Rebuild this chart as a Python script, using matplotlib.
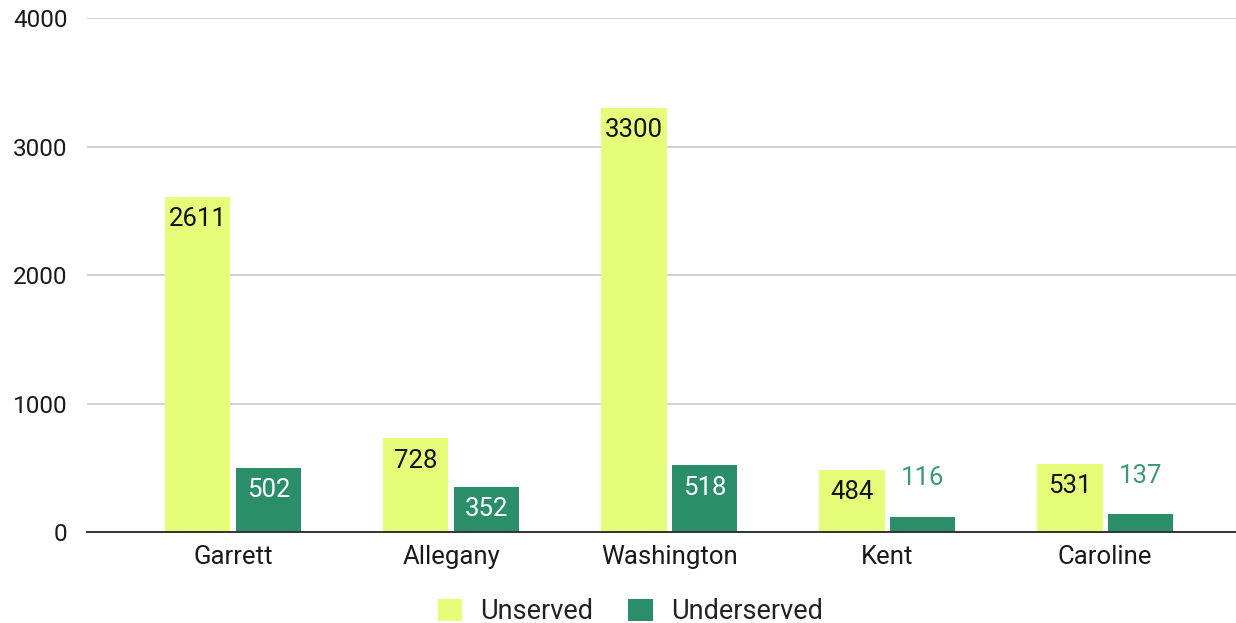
import matplotlib
matplotlib.use('Agg')
import matplotlib.pyplot as plt
import numpy as np

# ===================== 数据 =====================
counties = ['Garrett', 'Allegany', 'Washington', 'Kent', 'Caroline']
unserved = [2611, 728, 3300, 484, 531]
underserved = [502, 352, 518, 116, 137]
y_ticks = [0, 1000, 2000, 3000, 4000]

C_UNS = '#e5fd78'
C_UND = '#2a8f69'

plt.rcParams['font.family'] = ['Roboto', 'DejaVu Sans']

fig = plt.figure(figsize=(12.36, 6.23), dpi=100)
ax = fig.add_axes([0.0704, 0.146, 0.9296, 0.825])

x = np.arange(len(counties))
w = 0.30
off = 0.162
b1 = ax.bar(x - off, unserved, w, color=C_UNS, label='Unserved', zorder=3)
b2 = ax.bar(x + off, underserved, w, color=C_UND, label='Underserved', zorder=3)

# 数据标签：够高就放在柱子里面，否则放上方
for bars, vals, inner in ((b1, unserved, '#111111'), (b2, underserved, 'white')):
    for r, v in zip(bars, vals):
        cx = r.get_x() + r.get_width() / 2
        if v >= 250:
            ax.annotate(str(v), (cx, v), xytext=(0, -16), textcoords='offset points',
                        ha='center', va='center', fontsize=18.5, color=inner, zorder=4)
        else:
            ax.annotate(str(v), (cx, v), xytext=(0, 28), textcoords='offset points',
                        ha='center', va='center', fontsize=18.5, color='#3a9a78', zorder=4)

ax.set_xlim(-0.67, 4.6)
ax.set_ylim(0, 4000)
ax.set_yticks(y_ticks)
ax.set_yticklabels([str(t) for t in y_ticks], fontsize=17.5, color='#1a1a1a')
ax.set_xticks(x)
ax.set_xticklabels(counties, fontsize=18.5, color='#1a1a1a')
ax.tick_params(axis='both', length=0)
ax.tick_params(axis='y', pad=14)
ax.tick_params(axis='x', pad=9)

ax.grid(axis='y', color='#cccccc', linewidth=1.2, zorder=0)
for s in ('top', 'right', 'left'):
    ax.spines[s].set_visible(False)
ax.spines['bottom'].set_color('#333333')
ax.spines['bottom'].set_linewidth(1.4)
ax.spines['bottom'].set_zorder(5)

fig.legend(handles=[b1, b2], loc='center', bbox_to_anchor=(0.51, 0.018), ncol=2,
           frameon=False, fontsize=19.5, handlelength=0.9, handleheight=0.9,
           columnspacing=1.28, handletextpad=0.68, labelcolor='#222222')

fig.savefig('out.png', dpi=100)
